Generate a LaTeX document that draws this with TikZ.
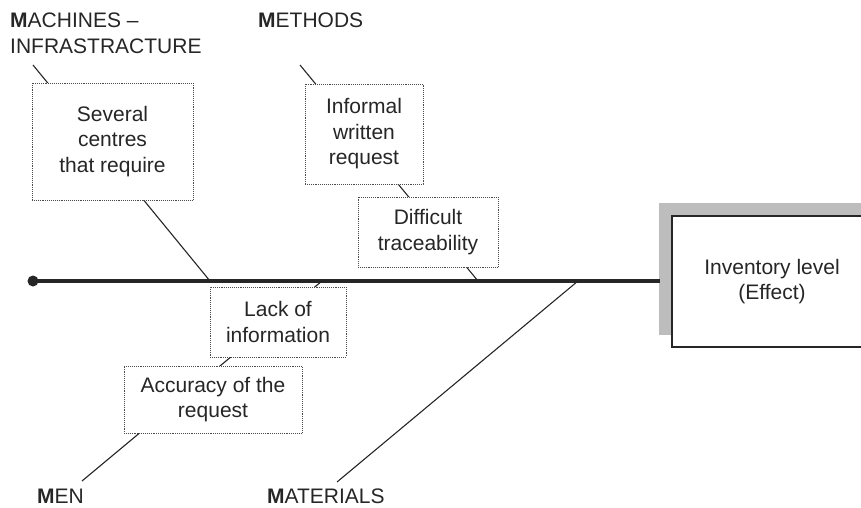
\documentclass[tikz,border=0pt]{standalone}
\usepackage{fontspec}
\setmainfont{Liberation Sans}
\usetikzlibrary{backgrounds,calc}
\usepackage{xcolor}
\definecolor{inkgray}{HTML}{262626}
\definecolor{shadegray}{HTML}{BDBDBD}
\definecolor{dotrule}{HTML}{4A4A4A}

\begin{document}
\begin{tikzpicture}[
  x=1pt, y=-1pt,
  font=\fontsize{21}{25.5}\selectfont, text=inkgray,
  cause/.style={draw=dotrule, densely dotted, line width=0.9pt, fill=white,
                align=center, inner sep=0pt},
  cat/.style={inner sep=0pt, align=left},
  bone/.style={draw=inkgray, line width=1.1pt},
  spine/.style={draw=inkgray, line width=3.2pt},
]
\clip (0,0) rectangle (861,508);

% bone end points
\coordinate (tail) at (33,281);
\coordinate (head) at (660,281);
\coordinate (mach0) at (33,65);   \coordinate (mach1) at (210,281);
\coordinate (meth0) at (300,65);  \coordinate (meth1) at (478,281);
\coordinate (men0) at (82,481);   \coordinate (men1) at (322,281);
\coordinate (mat0) at (337,482);  \coordinate (mat1) at (578,281);

\foreach \a/\b in {mach0/mach1, meth0/meth1, men0/men1, mat0/mat1}
  \draw[bone] (\a) -- (\b);

\draw[spine] (tail) -- (head);
\fill[inkgray] (tail) circle (5.5);

% effect
\node[draw=inkgray, line width=1.2pt, fill=white, minimum width=200,
      minimum height=131, align=center] (eff) at (772,281.5)
  {Inventory level\\(Effect)};
\begin{scope}[on background layer]
  \fill[shadegray] ($(eff.north west)+(-12,-12)$) rectangle ($(eff.south east)+(-12,-13)$);
\end{scope}

% causes
\node[cause, minimum width=161, minimum height=117] (sev) at (112.5,141.5)
  {Several\\centres\\that require};
\node[cause, minimum width=118, minimum height=100] (inf) at (364,134)
  {Informal\\written\\request};
\node[cause, minimum width=140, minimum height=70] (dif) at (428,232)
  {Difficult\\traceability};
\node[cause, minimum width=136, minimum height=70] (lack) at (278,322)
  {Lack of\\information};
\node[cause, minimum width=178, minimum height=67] (acc) at (213,399.5)
  {Accuracy of the\\request};

% categories
\node[cat, anchor=north west] (mach) at (10,13) {\textbf{M}ACHINES --\\INFRASTRACTURE};
\node[cat, anchor=base west] (meth) at (258,28) {\textbf{M}ETHODS};
\node[cat, anchor=base west] (men) at (37,503.5) {\textbf{M}EN};
\node[cat, anchor=base west] (mat) at (267,503.5) {\textbf{M}ATERIALS};

\end{tikzpicture}
\end{document}
